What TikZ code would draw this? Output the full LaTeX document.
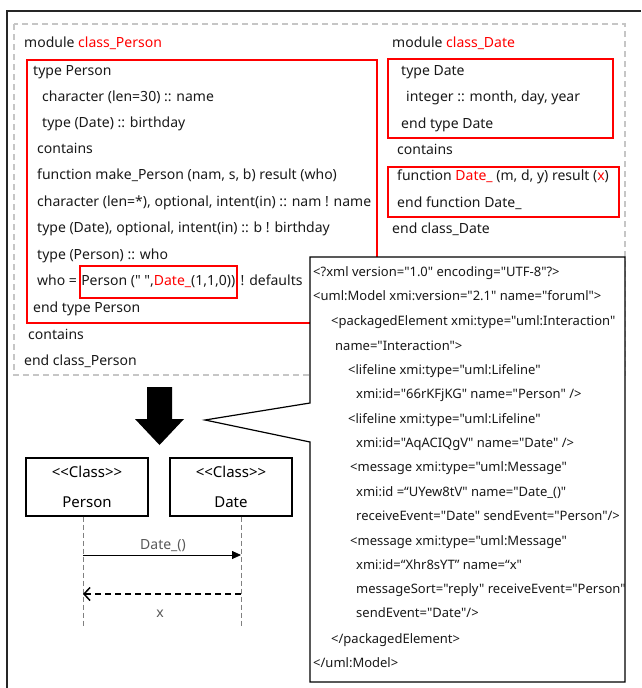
\documentclass[tikz,border=0pt]{standalone}
\usepackage{fontspec}
\setmainfont{Noto Sans}[Ligatures=TeXOff]
\usepackage{xcolor}
\usetikzlibrary{positioning, arrows.meta}
\tikzset{
  txt/.style={anchor=west, inner sep=0pt, text height=10pt, text depth=3pt, font=\fontsize{14}{16}\selectfont, text=black!90},
  xmi/.style={txt, font=\fontsize{13}{16}\selectfont},
  redbox/.style={draw=red, line width=1.5pt},
  cls/.style={draw, line width=1.2pt, minimum width=122pt, minimum height=58pt, align=center, font=\fontsize{15}{30}\selectfont},
  lifeline/.style={draw=gray, dashed, dash pattern=on 5pt off 3pt, line width=0.8pt},
}

\begin{document}
\begin{tikzpicture}[x=1pt, y=-1pt]
	\useasboundingbox (0,0) rectangle (641,688);
	\draw[line width=2.5pt, black!85] (7,688) -- (7,11) -- (641,11);
	\draw[gray!45, line width=1.5pt, dash pattern=on 6pt off 4pt] (14,24) rectangle (625,375);

	% class_Person
	\draw[redbox] (27,60) rectangle (377,323);
	\node[txt] (p1) at (24,44) {module \textcolor{red}{class\_Person}};
	\node[txt] (p2) at (33,72) {type Person};
	\node[txt] (p3) at (42,98) {character (len=30) :: name};
	\node[txt] (p4) at (42,124) {type (Date) :: birthday};
	\node[txt] (p5) at (37,150) {contains};
	\node[txt] (p6) at (37,176) {function make\_Person (nam, s, b) result (who)};
	\node[txt] (p7) at (37,203) {character (len=*), optional, intent(in) :: nam ! name};
	\node[txt] (p8) at (37,229) {type (Date), optional, intent(in) :: b ! birthday};
	\node[txt] (p9) at (37,256) {type (Person) :: who};
	\node[txt] (p10) at (37,282) {who =};
	\node[txt, redbox, inner xsep=1.5pt, inner ysep=9.5pt] (whobox) at (79,282) {Person (" ",\textcolor{red}{Date\_}(1,1,0))};
	\node[txt, right=3pt of whobox] (p11) {! defaults};
	\node[txt] (p12) at (33,309) {end type Person};
	\node[txt] (p13) at (28,336) {contains};
	\node[txt] (p14) at (24,362) {end class\_Person};

	% class_Date
	\draw[redbox] (388,59) rectangle (613,138);
	\draw[redbox] (388,167) rectangle (619,217);
	\node[txt] (d1) at (392,44) {module \textcolor{red}{class\_Date}};
	\node[txt] (d2) at (401,72) {type Date};
	\node[txt] (d3) at (406,98) {integer :: month, day, year};
	\node[txt] (d4) at (401,125) {end type Date};
	\node[txt] (d5) at (397,151) {contains};
	\node[txt] (d6) at (397,177) {function \textcolor{red}{Date\_} (m, d, y) result (\textcolor{red}{x})};
	\node[txt] (d7) at (397,204) {end function Date\_};
	\node[txt] (d8) at (392,230) {end class\_Date};

	% xmi
	\draw[fill=white, line width=1.2pt] (310,257) -- (625,257) -- (625,682) -- (310,682) -- (310,442) -- (205,420) -- (310,403) -- cycle;
	\node[xmi] (x1) at (313,273) {<?xml version="1.0" encoding="UTF-8"?>};
	\node[xmi] (x2) at (313,297) {<uml:Model xmi:version="2.1" name="foruml">};
	\node[xmi] (x3) at (331,322) {<packagedElement xmi:type="uml:Interaction"};
	\node[xmi] (x4) at (335,347) {name="Interaction">};
	\node[xmi] (x5) at (348,371) {<lifeline xmi:type="uml:Lifeline"};
	\node[xmi] (x6) at (356,395) {xmi:id="66rKFjKG" name="Person" />};
	\node[xmi] (x7) at (348,420) {<lifeline xmi:type="uml:Lifeline"};
	\node[xmi] (x8) at (356,444) {xmi:id="AqACIQgV" name="Date" />};
	\node[xmi] (x9) at (350,468) {<message xmi:type="uml:Message"};
	\node[xmi] (x10) at (356,493) {xmi:id =“UYew8tV" name="Date\_()"};
	\node[xmi] (x11) at (356,517) {receiveEvent="Date" sendEvent="Person"/>};
	\node[xmi] (x12) at (350,542) {<message xmi:type="uml:Message"};
	\node[xmi] (x13) at (356,566) {xmi:id=“Xhr8sYT” name=“x"};
	\node[xmi] (x14) at (356,590) {messageSort="reply" receiveEvent="Person"};
	\node[xmi] (x15) at (356,614) {sendEvent="Date"/>};
	\node[xmi] (x16) at (331,640) {</packagedElement>};
	\node[xmi] (x17) at (313,664) {</uml:Model>};

	% arrow
	\fill (147,387) -- (172,387) -- (172,419) -- (184,419) -- (159.5,445) -- (135,419) -- (147,419) -- cycle;

	% sequence diagram
	\node[cls] (person) at (87,487) {<{}<Class>{}>\\Person};
	\node[cls] (date) at (231,487) {<{}<Class>{}>\\Date};
	\coordinate (pEnd) at (83,627);
	\coordinate (dEnd) at (241,627);
	\draw[lifeline] (person.south -| pEnd) -- (pEnd);
	\draw[lifeline] (date.south -| dEnd) -- (dEnd);
	\coordinate (callS) at (83,555);
	\coordinate (callE) at (241,555);
	\coordinate (retS) at (241,594);
	\coordinate (retE) at (83,594);
	\draw[line width=0.8pt, -{Triangle[length=9pt, width=8pt]}] (callS) -- (callE);
	\draw[line width=1.5pt, dash pattern=on 6pt off 4pt, -{Straight Barb[length=6pt, width=13pt]}] (retS) -- (retE);
	\node[txt, anchor=center, text=black!65] (callLbl) at (163,546) {Date\_()};
	\node[txt, anchor=center, text=black!65] (retLbl) at (160,614) {x};
\end{tikzpicture}
\end{document}
